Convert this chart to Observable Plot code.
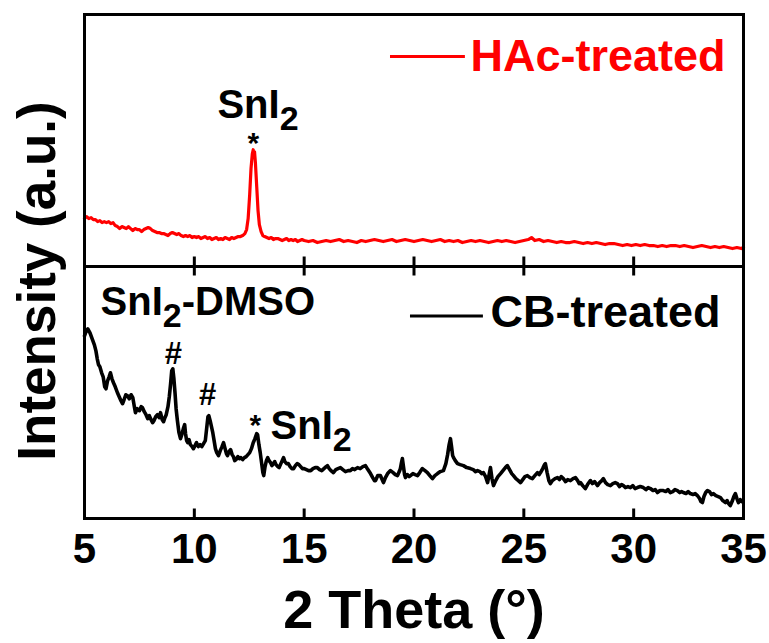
<!DOCTYPE html>
<html>
<head>
<meta charset="utf-8">
<script src="https://cdn.jsdelivr.net/npm/d3@7"></script>
<script src="https://cdn.jsdelivr.net/npm/@observablehq/plot@0.6"></script>
<style>
  body { margin: 0; background: #fff; }
</style>
</head>
<body>
<div id="chart"></div>
<script>
// Panels, top to bottom
const panels = ["HAc-treated", "CB-treated"];

// 2θ tick values (degrees)
const xTicks = [5, 10, 15, 20, 25, 30, 35];

// XRD pattern of the HAc-treated film: [2θ (°), intensity (a.u.)]
const hacTreated = [
  [5.0,48],[5.1,50],[5.2,48],[5.3,49],[5.4,47],[5.5,47],[5.6,45],[5.7,46],[5.8,44],[5.9,45],
  [6.0,44],[6.1,45],[6.2,43],[6.3,44],[6.4,41],[6.5,40],[6.6,38],[6.7,40],[6.8,39],[6.9,38],
  [7.0,40],[7.1,38],[7.2,36],[7.3,38],[7.4,37],[7.5,37],[7.6,35],[7.7,37],[7.8,38],[7.9,39],
  [8.0,38],[8.1,36],[8.2,35],[8.3,34],[8.4,34],[8.5,33],[8.6,33],[8.7,32],[8.8,31],[8.9,33],
  [9.0,34],[9.1,33],[9.2,32],[9.3,33],[9.4,31],[9.5,30],[9.6,31],[9.7,30],[9.8,31],[9.9,29],
  [10.0,30],[10.1,29],[10.2,30],[10.3,28],[10.4,29],[10.5,30],[10.6,28],[10.7,29],[10.8,27],[10.9,28],
  [11.0,29],[11.1,27],[11.2,28],[11.3,27],[11.4,29],[11.5,28],[11.6,27],[11.7,29],[11.8,28],[11.9,29],
  [12.0,30],[12.1,30],[12.2,31],[12.3,33],[12.38,37],[12.45,48],[12.52,72],[12.58,98],[12.64,113],[12.68,117],
  [12.71,111],[12.74,115],[12.78,104],[12.84,80],[12.9,56],[12.96,42],[13.04,35],[13.12,31],[13.2,30],[13.3,29],
  [13.4,28],[13.5,29],[13.6,27],[13.7,28],[13.8,28],[13.9,27],[14.0,26],[14.1,27],[14.2,28],[14.3,26],
  [14.4,27],[14.5,26],[14.6,27],[14.7,25],[14.8,26],[14.9,27],[15.0,26],[15.2,25],[15.4,26],[15.6,24],
  [15.8,25],[16.0,26],[16.2,25],[16.4,26],[16.6,27],[16.8,25],[17.0,26],[17.2,25],[17.4,24],[17.6,26],
  [17.8,25],[18.0,26],[18.2,27],[18.4,26],[18.6,25],[18.8,26],[19.0,27],[19.2,25],[19.4,26],[19.6,27],
  [19.8,26],[20.0,25],[20.2,26],[20.4,27],[20.6,26],[20.8,25],[21.0,26],[21.2,27],[21.4,25],[21.6,26],
  [21.8,25],[22.0,26],[22.2,24],[22.4,25],[22.6,26],[22.8,25],[23.0,26],[23.2,25],[23.4,24],[23.6,25],
  [23.8,26],[24.0,25],[24.2,26],[24.4,25],[24.6,24],[24.8,25],[25.0,26],[25.2,27],[25.35,29],[25.5,26],
  [25.7,27],[25.9,25],[26.1,26],[26.3,25],[26.5,24],[26.7,25],[26.9,24],[27.1,24],[27.3,25],[27.5,24],
  [27.7,23],[27.9,24],[28.1,23],[28.3,24],[28.5,23],[28.7,22],[28.9,23],[29.1,23],[29.3,22],[29.5,21],
  [29.7,22],[29.9,21],[30.1,22],[30.3,21],[30.5,22],[30.7,21],[30.9,21],[31.1,20],[31.3,21],[31.5,20],
  [31.7,21],[31.9,21],[32.1,20],[32.3,21],[32.5,20],[32.7,19],[32.9,20],[33.1,21],[33.3,20],[33.5,19],
  [33.7,20],[33.9,19],[34.1,20],[34.3,19],[34.5,18],[34.7,19],[34.9,18],[35.0,19]
];

// XRD pattern of the CB-treated film: [2θ (°), intensity (a.u.)]
const cbTreated = [
  [5.0,183],[5.08,188],[5.15,190],[5.25,186],[5.35,180],[5.45,174],[5.52,168],[5.58,160],[5.64,154],[5.7,152],
  [5.78,146],[5.85,142],[5.92,132],[5.98,130],[6.05,138],[6.12,142],[6.18,146],[6.25,140],[6.32,136],[6.4,132],
  [6.5,126],[6.58,122],[6.66,118],[6.73,115],[6.8,119],[6.88,124],[6.96,123],[7.04,120],[7.12,124],[7.2,121],
  [7.27,112],[7.32,106],[7.4,110],[7.5,108],[7.58,112],[7.64,111],[7.72,107],[7.8,104],[7.88,100],[7.95,103],
  [8.03,99],[8.1,96],[8.16,98],[8.24,102],[8.32,104],[8.4,101],[8.46,106],[8.54,99],[8.6,97],[8.66,101],
  [8.72,104],[8.8,112],[8.86,122],[8.92,135],[8.97,148],[9.02,150],[9.07,140],[9.12,126],[9.17,110],[9.23,98],
  [9.3,86],[9.37,80],[9.43,84],[9.5,90],[9.56,94],[9.6,85],[9.65,78],[9.7,76],[9.76,79],[9.82,74],
  [9.9,72],[9.96,70],[10.03,73],[10.1,76],[10.18,72],[10.26,74],[10.34,72],[10.42,75],[10.5,78],[10.56,90],
  [10.62,102],[10.66,103],[10.72,98],[10.78,92],[10.84,86],[10.9,78],[10.96,70],[11.02,66],[11.1,63],[11.18,68],
  [11.26,72],[11.33,76],[11.4,70],[11.46,65],[11.51,63],[11.58,67],[11.65,69],[11.72,64],[11.78,62],[11.84,58],
  [11.9,59],[11.98,62],[12.05,60],[12.12,61],[12.2,59],[12.28,61],[12.36,62],[12.44,64],[12.52,66],[12.6,70],
  [12.68,76],[12.76,80],[12.84,85],[12.88,84],[12.94,74],[13.0,66],[13.06,56],[13.12,46],[13.16,43],[13.22,52],
  [13.28,58],[13.34,61],[13.4,58],[13.47,56],[13.53,53],[13.6,55],[13.66,57],[13.72,54],[13.8,52],[13.86,51],
  [13.92,54],[14.0,58],[14.06,61],[14.12,57],[14.2,55],[14.28,55],[14.36,52],[14.44,50],[14.52,50],[14.6,53],
  [14.68,55],[14.76,54],[14.84,52],[14.92,50],[15.0,50],[15.1,49],[15.2,48],[15.3,48],[15.4,50],[15.5,51],
  [15.6,51],[15.7,49],[15.8,48],[15.9,50],[16.0,52],[16.06,53],[16.14,50],[16.22,48],[16.33,46],[16.44,49],
  [16.54,50],[16.65,51],[16.76,49],[16.88,47],[17.0,48],[17.1,48],[17.2,50],[17.3,49],[17.43,51],[17.55,50],
  [17.67,52],[17.79,53],[17.9,49],[18.02,45],[18.12,41],[18.2,38],[18.25,38],[18.35,43],[18.47,43],[18.55,39],
  [18.61,36],[18.7,41],[18.8,45],[18.93,48],[19.05,46],[19.15,44],[19.25,43],[19.33,47],[19.38,50],[19.43,56],
  [19.47,60],[19.52,52],[19.57,44],[19.61,41],[19.7,44],[19.78,42],[19.84,43],[19.95,45],[20.05,44],[20.16,43],
  [20.26,46],[20.38,50],[20.5,48],[20.61,46],[20.72,43],[20.84,40],[20.95,43],[21.07,45],[21.2,47],[21.34,48],
  [21.45,55],[21.53,64],[21.6,74],[21.66,80],[21.71,72],[21.76,63],[21.8,61],[21.88,58],[21.98,55],[22.1,54],
  [22.25,53],[22.4,51],[22.57,50],[22.7,49],[22.8,47],[22.89,48],[23.0,47],[23.08,45],[23.16,46],[23.26,42],
  [23.35,36],[23.42,44],[23.48,51],[23.55,40],[23.62,33],[23.72,38],[23.82,42],[23.94,45],[24.05,48],[24.16,51],
  [24.25,53],[24.35,49],[24.45,45],[24.53,43],[24.64,40],[24.75,38],[24.85,36],[24.95,39],[25.05,42],[25.16,43],
  [25.28,41],[25.39,40],[25.5,43],[25.62,46],[25.7,44],[25.76,46],[25.86,50],[25.94,54],[25.98,55],[26.06,46],
  [26.14,38],[26.21,35],[26.3,38],[26.42,40],[26.53,41],[26.62,39],[26.7,42],[26.8,40],[26.9,37],[27.0,39],
  [27.12,38],[27.24,40],[27.35,41],[27.45,38],[27.52,35],[27.58,36],[27.68,33],[27.8,30],[27.9,34],[28.03,38],
  [28.12,35],[28.22,37],[28.35,33],[28.45,36],[28.55,38],[28.62,40],[28.72,36],[28.82,34],[28.94,33],[29.05,35],
  [29.16,36],[29.26,35],[29.36,32],[29.45,34],[29.53,33],[29.62,31],[29.74,32],[29.85,31],[29.96,33],[30.06,30],
  [30.17,31],[30.3,32],[30.44,31],[30.56,29],[30.66,31],[30.76,30],[30.88,28],[30.98,29],[31.08,26],[31.2,28],
  [31.35,28],[31.46,27],[31.56,29],[31.67,26],[31.78,27],[31.88,29],[31.99,28],[32.1,26],[32.18,27],[32.26,26],
  [32.38,25],[32.48,27],[32.58,25],[32.7,24],[32.8,25],[32.9,23],[33.0,20],[33.06,17],[33.13,16],[33.2,22],
  [33.28,26],[33.36,28],[33.45,27],[33.54,24],[33.63,25],[33.74,23],[33.85,22],[33.95,21],[34.05,18],[34.12,17],
  [34.18,16],[34.25,18],[34.32,15],[34.4,13],[34.48,17],[34.56,22],[34.63,25],[34.7,20],[34.77,16],[34.85,19],
  [34.92,17],[34.98,18]
];

// Peak markers and phase labels ("_" marks a subscript character)
const peakLabels = [
  { panel: "HAc-treated", text: "*" , angle: 12.69 },
  { panel: "CB-treated",  text: "#" , angle: 9.05 },
  { panel: "CB-treated",  text: "#" , angle: 10.6 },
  { panel: "CB-treated",  text: "*" , angle: 12.78 }
];
const phaseLabels = [
  { panel: "HAc-treated", text: "SnI_2" },
  { panel: "CB-treated",  text: "SnI_2-DMSO" },
  { panel: "CB-treated",  text: "SnI_2" }
];

// Layout of the annotations (data units of each panel)
const peakLabelY = [123, 165, 124, 93];
const phaseLabelPos = [[11.05, 162], [5.73, 217], [13.47, 92]];
const legendPos = [
  { x1: 18.93, x2: 22.34, y: 210.5, tx: 22.57, ty: 210.5 },
  { x1: 19.84, x2: 23.16, y: 203, tx: 23.48, ty: 206 }
];

// Colours
const seriesColor = { "HAc-treated": "#ff0000", "CB-treated": "#000000" };

const innerTicks = xTicks.slice(1, -1);
const tickLen = 10;
const W = 769, H = 643;
const margin = { top: 13, right: 26, bottom: 125, left: 84 };
const panelH = (H - margin.top - margin.bottom) / panels.length;

const legend = panels.map((p, i) => ({ panel: p, ...legendPos[i] }));
const peaks = peakLabels.map((d, i) => ({ ...d, y: peakLabelY[i] }));
const phases = phaseLabels.map((d, i) => ({ ...d, x: phaseLabelPos[i][0], y: phaseLabelPos[i][1] }));

const chart = Plot.plot({
  width: W,
  height: H,
  marginTop: margin.top,
  marginRight: margin.right,
  marginBottom: margin.bottom,
  marginLeft: margin.left,
  style: {
    fontFamily: "'Liberation Sans', Arial, sans-serif",
    fontWeight: "bold",
    background: "#fff",
    color: "#000",
    overflow: "visible"
  },
  x: { domain: [5, 35] },
  y: { domain: [0, panelH], axis: null },
  fy: { domain: panels, padding: 0, axis: null },
  marks: [
    // diffraction patterns
    Plot.line(hacTreated, { x: d => d[0], y: d => d[1], fy: () => "HAc-treated",
      stroke: seriesColor["HAc-treated"], strokeWidth: 3.2, strokeLinejoin: "round" }),
    Plot.line(cbTreated, { x: d => d[0], y: d => d[1], fy: () => "CB-treated",
      stroke: seriesColor["CB-treated"], strokeWidth: 3.6, strokeLinejoin: "round" }),

    // inward ticks: up from the bottom of each panel, down from the top of the lower panel
    Plot.ruleX(innerTicks, { x: d => d, insetTop: panelH - tickLen, strokeWidth: 3 }),
    Plot.ruleX(innerTicks, { x: d => d, fy: () => "CB-treated", insetBottom: panelH - tickLen, strokeWidth: 3 }),

    Plot.frame({ stroke: "#000", strokeWidth: 3 }),

    // legends
    Plot.ruleY(legend, { fy: "panel", y: "y", x1: "x1", x2: "x2",
      stroke: d => seriesColor[d.panel], strokeWidth: 3 }),
    Plot.text(legend, { fy: "panel", x: "tx", y: "ty", text: "panel", textAnchor: "start",
      fill: d => seriesColor[d.panel], fontSize: 45 }),

    // peak markers and phase labels
    Plot.text(peaks, { fy: "panel", x: "angle", y: "y", text: "text",
      fontSize: d => d.text === "#" ? 31 : 30, fill: "#000" }),
    Plot.text(phases, { fy: "panel", x: "x", y: "y", text: "text", textAnchor: "start", fontSize: 40, fill: "#000" }),

    // axes
    Plot.axisX({ ticks: xTicks, tickSize: 0, tickPadding: 15, fontSize: 42, label: null }),
    Plot.text(["2 Theta (°)"], { text: d => d, fy: () => "CB-treated", frameAnchor: "bottom",
      lineAnchor: "top", dy: 71, fontSize: 54 }),
    Plot.text(["Intensity (a.u.)"], { text: d => d, fy: () => "CB-treated", frameAnchor: "top-left",
      textAnchor: "middle", lineAnchor: "middle", rotate: -90, dx: -46, dy: 14.5, fontSize: 53 })
  ]
});

document.getElementById("chart").appendChild(chart);

// Render "_x" as a subscript x inside text labels
chart.querySelectorAll("text").forEach(t => {
  const s = t.textContent;
  if (!s.includes("_")) return;
  const fs = parseFloat(getComputedStyle(t).fontSize);
  const parts = s.split(/_(.)/);
  t.textContent = "";
  const ns = "http://www.w3.org/2000/svg";
  let shifted = false;
  parts.forEach((part, i) => {
    if (!part) return;
    const span = document.createElementNS(ns, "tspan");
    span.textContent = part;
    if (i % 2 === 1) {
      span.setAttribute("font-size", fs * 0.85);
      span.setAttribute("dy", fs * 0.3);
      shifted = true;
    } else if (shifted) {
      span.setAttribute("dy", -fs * 0.3);
      shifted = false;
    }
    t.appendChild(span);
  });
});
</script>
</body>
</html>
